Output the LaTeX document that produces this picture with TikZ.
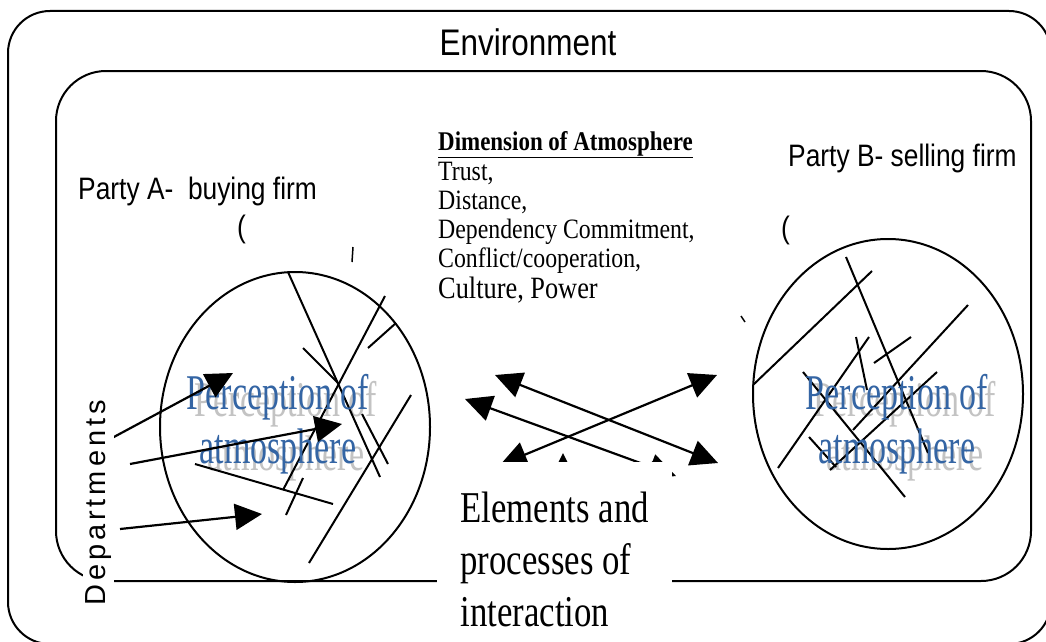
\documentclass[tikz,border=0pt]{standalone}
\usepackage{fontspec}
\setmainfont{Liberation Serif}
\newfontfamily\sansnarrow[FakeStretch=0.85]{Liberation Sans}
\newfontfamily\sansspaced[LetterSpace=13.5]{Liberation Sans}
\newfontfamily\serifnarrow[FakeStretch=0.85]{Liberation Serif}
\newfontfamily\serifcond[FakeStretch=0.79]{Liberation Serif}
\newfontfamily\serifperc[FakeStretch=0.68]{Liberation Serif}
\usetikzlibrary{positioning,arrows.meta,shapes.geometric}
\definecolor{percazul}{RGB}{52,101,164}
\definecolor{percgris}{RGB}{195,195,195}

\begin{document}
\begin{tikzpicture}[
x=1pt, y=-1pt,
boundary/.style={
    draw,
    line width=2pt
},
firm/.style={
    draw,
    ellipse,
    line width=2pt,
    minimum width=270pt,
    minimum height=310pt,
    inner sep=0pt
},
stroke/.style={
    line width=2pt
},
link/.style={
    -{Triangle[length=27pt,width=26pt]},
    line width=2.2pt
},
twoway/.style={
    {Triangle[length=27pt,width=26pt]}-{Triangle[length=27pt,width=26pt]},
    line width=2.2pt
},
txt/.style={
    inner sep=0pt
},
perception/.style={
    align=center,
    text=percazul,
    font=\serifperc\fontsize{50}{54}\selectfont
},
ghost/.style={
    perception,
    text=percgris
}
]

\useasboundingbox (0,0) rectangle (1046,642);

% Marcos: entorno y relacion
\draw[boundary, rounded corners=42pt] (8,11) rectangle (1051,644);
\draw[boundary, rounded corners=50pt] (56,71) rectangle (1031,581);

\node[txt, anchor=base, font=\sansnarrow\fontsize{37}{37}\selectfont] (environment) at (528,56) {Environment};

% Partes
\node[txt, anchor=base west, font=\sansnarrow\fontsize{31}{31}\selectfont] (partyA) at (78,199) {Party A-\ \ buying firm};
\node[txt, anchor=base west, font=\sansnarrow\fontsize{31}{31}\selectfont] (partyB) at (788,166) {Party B- selling firm};
\node[txt, anchor=base west, font=\sansnarrow\fontsize{31}{31}\selectfont] (parenA) at (237,237) {(};
\node[txt, anchor=base west, font=\sansnarrow\fontsize{31}{31}\selectfont] (parenB) at (781,238) {(};
\draw[line width=1.5pt] (353,247) -- (352,262);
\draw[line width=1.5pt] (741,316) -- (745,322);

% Dimensiones de la atmosfera
\node[txt, anchor=base west, font=\serifnarrow\bfseries\fontsize{27}{27}\selectfont] (dimtitle) at (438,150) {\underline{Dimension of Atmosphere}};
\node[txt, anchor=north west, align=left, font=\serifnarrow\fontsize{28}{29}\selectfont] (dimlist) at (438,162) {
Trust,\\
Distance,\\
Dependency Commitment,\\
Conflict/cooperation,\\[2pt]
{\fontsize{31}{31}\selectfont Culture, Power}
};

% Empresas
\node[firm] (buyer) at (295,427) {};
\node[firm] (seller) at (888,394) {};

\node[ghost] (buyerghost) at (286,431) {Perception of\\atmosphere};
\node[ghost] (sellerghost) at (905,431) {Perception of\\atmosphere};

% Trazos dentro de la compradora
\draw[stroke] (288,272) -- (380,477);
\draw[stroke] (385,296) -- (283,490);
\draw[stroke] (303,348) -- (339,384);
\draw[stroke] (368,348) -- (396,323);
\draw[stroke] (362,414) -- (388,464);
\draw[stroke] (411,395) -- (309,563);
\draw[stroke] (195,464) -- (333,504);
\draw[stroke] (303,478) -- (286,515);

% Trazos dentro de la vendedora
\draw[stroke] (753,385) -- (872,271);
\draw[stroke] (846,257) -- (928,453);
\draw[stroke] (856,337) -- (867,390);
\draw[stroke] (869,337) -- (778,468);
\draw[stroke] (874,363) -- (911,337);
\draw[stroke] (968,305) -- (853,430);
\draw[stroke] (937,372) -- (830,470);
\draw[stroke] (803,372) -- (905,497);
\draw[stroke] (809,437) -- (836,467);

\node[perception] (buyerperc) at (278,424) {Perception of\\atmosphere};
\node[perception] (sellerperc) at (897,424) {Perception of\\atmosphere};

% Flechas de los departamentos
\coordinate (d1) at (112,438);
\coordinate (d2) at (130,464);
\coordinate (d3) at (120,529);
\coordinate (p1) at (233,373);
\coordinate (p2) at (342,424);
\coordinate (p3) at (262,514);

\draw[link] (d1) -- (p1);
\draw[link] (d2) -- (p2);
\draw[link] (d3) -- (p3);

% Flechas de interaccion
\coordinate (a1s) at (495,375);
\coordinate (a1e) at (718,463);
\coordinate (a2s) at (465,399);
\coordinate (a2e) at (676,476);
\coordinate (a3s) at (717,375);
\coordinate (a3e) at (500,465);
\coordinate (a4s) at (563,560);
\coordinate (a4e) at (563,453);
\coordinate (a5s) at (620,545);
\coordinate (a5e) at (655,459);

\draw[twoway] (a1s) -- (a1e);
\draw[twoway] (a2s) -- (a2e);
\draw[twoway] (a3s) -- (a3e);
\draw[link] (a4s) -- (a4e);
\draw[link] (a5s) -- (a5e);

% Etiquetas con fondo blanco
\node[txt, fill=white, anchor=north west, align=left, minimum width=235pt, inner ysep=30pt, font=\serifcond\fontsize{44}{52}\selectfont] (elements) at (437,462) {
Elements and\\
processes of\\
interaction
};

\node[txt, fill=white, inner sep=3pt, rotate=90, font=\sansspaced\fontsize{29}{29}\selectfont] (departments) at (98.5,503) {Departments};

\end{tikzpicture}
\end{document}
